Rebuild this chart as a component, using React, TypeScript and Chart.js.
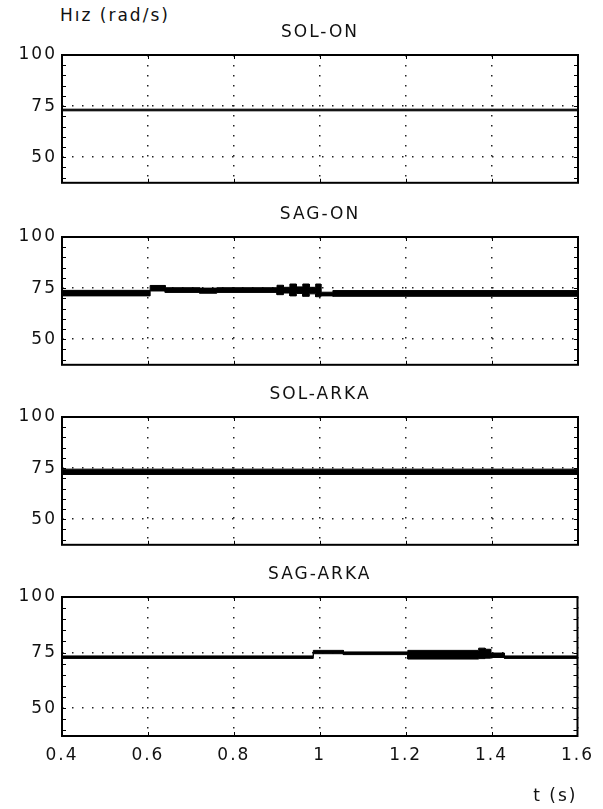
import React, { useEffect, useRef } from "react";
import { Chart, registerables } from "chart.js";

Chart.register(...registerables);

// ---------- data ----------
const Y_LABEL = "Hız (rad/s)";
const X_LABEL = "t (s)";
const TITLES = ["SOL-ON", "SAG-ON", "SOL-ARKA", "SAG-ARKA"];
const X_TICKS = [0.4, 0.6, 0.8, 1.0, 1.2, 1.4, 1.6];
const X_TICK_LABELS = ["0.4", "0.6", "0.8", "1", "1.2", "1.4", "1.6"];
const Y_TICKS = [50, 75, 100];
const Y_MINOR = [40, 45, 50, 55, 60, 65, 70, 75, 80, 85, 90, 95];
const X_MIN = 0.4;
const X_MAX = 1.6;
const Y_MIN = 37.5;
const Y_MAX = 100;

// Each series: segment boundaries (time, s) and the band's upper / lower
// envelope held over each segment (rad/s).

// SOL-ON
const T1 = [0.4, 1.6];
const HI1 = [73.5];
const LO1 = [72.7];

// SAG-ON
const T2 = [0.4, 0.605, 0.64, 0.72, 0.76, 0.9, 0.915, 0.93, 0.945, 0.96, 0.975, 0.99, 1.002, 1.03, 1.6];
const HI2 = [73.9, 76.3, 75.2, 75.0, 75.2, 76.4, 75.4, 77.0, 75.6, 77.0, 75.4, 77.0, 73.0, 73.8];
const LO2 = [71.2, 73.6, 72.9, 72.5, 72.9, 71.8, 72.6, 71.2, 72.4, 71.0, 72.2, 70.8, 71.2, 71.0];

// SOL-ARKA
const T3 = [0.4, 1.6];
const HI3 = [74.5];
const LO3 = [71.9];

// SAG-ARKA
const T4 = [0.4, 0.985, 1.055, 1.205, 1.37, 1.385, 1.398, 1.43, 1.6];
const HI4 = [73.5, 76.0, 75.3, 76.0, 77.0, 76.5, 74.8, 73.5];
const LO4 = [72.4, 74.5, 74.1, 72.1, 72.3, 72.5, 72.8, 72.4];

const SERIES = [
  { t: T1, hi: HI1, lo: LO1 },
  { t: T2, hi: HI2, lo: LO2 },
  { t: T3, hi: HI3, lo: LO3 },
  { t: T4, hi: HI4, lo: LO4 },
];

function stepPoints(t: number[], v: number[]) {
  const pts: { x: number; y: number }[] = [];
  v.forEach((val, k) => {
    pts.push({ x: t[k], y: val });
    pts.push({ x: t[k + 1], y: val });
  });
  return pts;
}

// ---------- layout ----------
const W = 603;
const PLOT_TOPS = [55, 237, 417, 597];
const PLOT_H = 139;
const TITLE_BLOCK = 32;
const AXIS_W = 62;
const RIGHT_PAD = 25;
const LAST_AXIS_H = 809 - PLOT_TOPS[3] - PLOT_H;
const FONT_FAMILY = "'DejaVu Sans', Verdana, sans-serif";
const FONT_SIZE = 17;
const INK = "#111";

const spacingPlugin = {
  id: "spacing",
  beforeUpdate(chart: any) {
    chart.ctx.letterSpacing = "2px";
  },
  beforeDraw(chart: any) {
    chart.ctx.letterSpacing = "2px";
  },
};

const framePlugin = {
  id: "frame",
  afterDraw(chart: any) {
    const { ctx, chartArea: a, scales } = chart;
    const ys = scales.y;
    const xs = scales.x;
    ctx.save();
    ctx.strokeStyle = "#000";
    ctx.lineWidth = 1;
    ctx.setLineDash([]);
    ctx.beginPath();
    Y_MINOR.forEach((v) => {
      const py = Math.round(ys.getPixelForValue(v)) + 0.5;
      ctx.moveTo(a.left, py);
      ctx.lineTo(a.left + 4, py);
      ctx.moveTo(a.right, py);
      ctx.lineTo(a.right - 4, py);
    });
    X_TICKS.forEach((v) => {
      const px = Math.round(xs.getPixelForValue(v)) + 0.5;
      ctx.moveTo(px, a.bottom);
      ctx.lineTo(px, a.bottom - 4);
      ctx.moveTo(px, a.top);
      ctx.lineTo(px, a.top + 4);
    });
    ctx.stroke();
    ctx.lineWidth = 2;
    ctx.strokeRect(a.left, a.top, a.right - a.left, a.bottom - a.top);
    ctx.restore();
  },
};

function canvasTop(i: number) {
  return PLOT_TOPS[i] - TITLE_BLOCK;
}
function canvasHeight(i: number) {
  return i === 3 ? 809 - canvasTop(3) : TITLE_BLOCK + PLOT_H + 4;
}

export default function App() {
  const refs = [useRef<HTMLCanvasElement>(null), useRef<HTMLCanvasElement>(null), useRef<HTMLCanvasElement>(null), useRef<HTMLCanvasElement>(null)];

  useEffect(() => {
    const charts: Chart[] = [];
    SERIES.forEach((s, i) => {
      const canvas = refs[i].current;
      if (!canvas) return;
      const isLast = i === 3;
      const font = { family: FONT_FAMILY, size: FONT_SIZE, lineHeight: 1.2 };
      const chart = new Chart(canvas, {
        type: "line",
        data: {
          datasets: [
            {
              data: stepPoints(s.t, s.lo),
              borderColor: "#000",
              borderWidth: 1,
              pointRadius: 0,
              fill: false,
              tension: 0,
            },
            {
              data: stepPoints(s.t, s.hi),
              borderColor: "#000",
              borderWidth: 1,
              pointRadius: 0,
              fill: "-1",
              backgroundColor: "#000",
              tension: 0,
            },
          ],
        },
        options: {
          animation: false,
          responsive: false,
          devicePixelRatio: 1,
          layout: { padding: { left: 0, right: RIGHT_PAD, top: 0, bottom: isLast ? 0 : 4 } },
          plugins: {
            legend: { display: false },
            tooltip: { enabled: false },
            title: {
              display: true,
              fullSize: false,
              text: TITLES[i],
              color: INK,
              font: { ...font, weight: "normal", lineHeight: 20 / FONT_SIZE },
              padding: { top: 0, bottom: 12 },
            },
          },
          scales: {
            x: {
              type: "linear",
              min: X_MIN,
              max: X_MAX,
              afterBuildTicks: (sc: any) => {
                sc.ticks = X_TICKS.map((v) => ({ value: v }));
              },
              afterFit: (sc: any) => {
                sc.height = isLast ? LAST_AXIS_H : 0;
              },
              ticks: {
                display: isLast,
                autoSkip: false,
                maxRotation: 0,
                padding: 9,
                color: INK,
                font,
                callback: (_v: any, idx: number) => X_TICK_LABELS[idx],
              },
              grid: { color: "#222", lineWidth: 1.5, drawTicks: false },
              border: { display: false, dash: [1.5, 8.5] },
              title: {
                display: isLast,
                text: X_LABEL,
                align: "end",
                color: INK,
                font,
                padding: { top: 0, bottom: 2 },
              },
            },
            y: {
              type: "linear",
              min: Y_MIN,
              max: Y_MAX,
              afterBuildTicks: (sc: any) => {
                sc.ticks = Y_TICKS.map((v) => ({ value: v }));
              },
              afterFit: (sc: any) => {
                sc.width = AXIS_W;
              },
              ticks: { color: INK, font, padding: 5 },
              grid: { color: "#222", lineWidth: 1.5, drawTicks: false },
              border: { display: false, dash: [1.5, 8.5] },
            },
          },
        },
        plugins: [spacingPlugin, framePlugin],
      } as any);
      charts.push(chart);
    });
    return () => charts.forEach((c) => c.destroy());
  }, []);

  return (
    <div style={{ position: "absolute", left: 0, top: 0, width: W, height: 809, background: "#fff", overflow: "hidden" }}>
      <div
        style={{
          position: "absolute",
          left: 60,
          top: 5,
          fontFamily: FONT_FAMILY,
          fontSize: FONT_SIZE,
          lineHeight: "20px",
          letterSpacing: "2px",
          color: INK,
          whiteSpace: "nowrap",
        }}
      >
        {Y_LABEL}
      </div>
      {SERIES.map((_, i) => (
        <canvas
          key={i}
          ref={refs[i]}
          width={W}
          height={canvasHeight(i)}
          style={{ position: "absolute", left: 0, top: canvasTop(i), width: W, height: canvasHeight(i) }}
        />
      ))}
    </div>
  );
}
